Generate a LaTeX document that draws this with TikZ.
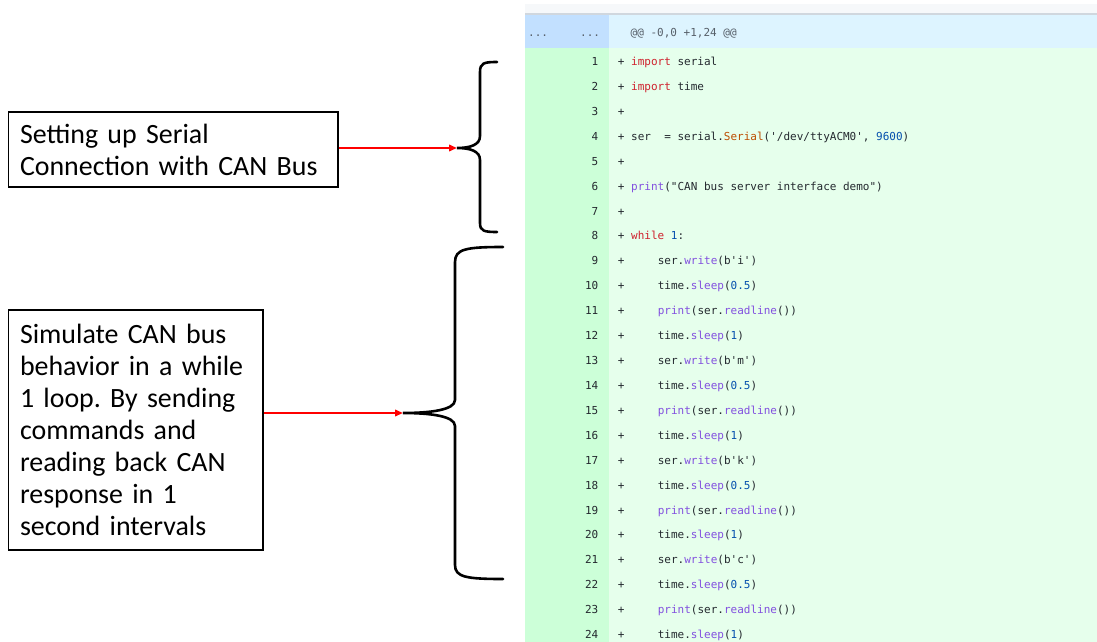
\documentclass[tikz,border=0pt]{standalone}
\usepackage{fontspec}
\setmonofont{DejaVu Sans Mono}
\newfontfamily\notefont{Carlito}
\usetikzlibrary{arrows.meta}
\frenchspacing

\definecolor{stripgray}{HTML}{F6F8FA}
\definecolor{rulegray}{HTML}{D0D7DE}
\definecolor{hunkgutter}{HTML}{C2E0FF}
\definecolor{hunkbg}{HTML}{DDF4FF}
\definecolor{addgutter}{HTML}{CCFFD8}
\definecolor{addbg}{HTML}{E6FFEC}
\definecolor{codetext}{HTML}{24292F}
\definecolor{hunkgray}{HTML}{57606A}
\definecolor{kwred}{HTML}{CF222E}
\definecolor{fnpurple}{HTML}{8250DF}
\definecolor{numblue}{HTML}{0550AE}
\definecolor{clsorange}{HTML}{BC4C00}

\newcommand{\ckw}[1]{\textcolor{kwred}{#1}}
\newcommand{\cfn}[1]{\textcolor{fnpurple}{#1}}
\newcommand{\cnum}[1]{\textcolor{numblue}{#1}}
\newcommand{\ccls}[1]{\textcolor{clsorange}{#1}}

\begin{document}
\begin{tikzpicture}[x=1pt,y=-1pt,
  code/.style={anchor=base west,inner sep=0pt,text=codetext,
    font=\ttfamily\fontsize{11}{13}\selectfont},
  lineno/.style={code,anchor=base east},
  note/.style={draw,line width=1.3pt,align=left,inner xsep=11.5pt,inner ysep=0pt,
    font=\notefont\fontsize{27.9}{32}\selectfont},
  pointer/.style={red,line width=2pt,-{Triangle[length=8pt,width=6.5pt]}},
  brace/.style={line width=2.6pt,line cap=round}]
  \fill[white] (0,0) rectangle (1097,642);
  \useasboundingbox (0,0) rectangle (1097,642);

  \fill[stripgray] (525,4.5) rectangle (1097,14);
  \fill[rulegray] (525,13.5) rectangle (1097,15.5);
  \fill[hunkgutter] (525,15.5) rectangle (609,48.5);
  \fill[hunkbg] (609,15.5) rectangle (1097,48.5);
  \fill[addgutter] (525,48.5) rectangle (609,642);
  \fill[addbg] (609,48.5) rectangle (1097,642);

  \node[code,text=hunkgray] (dotsa) at (528,37) {...};
  \node[code,text=hunkgray] (dotsb) at (580,37) {...};
  \node[code,text=hunkgray] (hunk) at (630.5,37) {@@ -0,0 +1,24 @@};

  \foreach \n/\ind/\txt in {1/0/{\ckw{import} serial},2/0/{\ckw{import} time},3/0/{},
      4/0/{ser\ \ = serial.\ccls{Serial}('/dev/ttyACM0', \cnum{9600})},5/0/{},
      6/0/{\cfn{print}("CAN bus server interface demo")},7/0/{},
      8/0/{\ckw{while} \cnum{1}:},
      9/1/{ser.\cfn{write}(b'i')},10/1/{time.\cfn{sleep}(\cnum{0.5})},
      11/1/{\cfn{print}(ser.\cfn{readline}())},12/1/{time.\cfn{sleep}(\cnum{1})},
      13/1/{ser.\cfn{write}(b'm')},14/1/{time.\cfn{sleep}(\cnum{0.5})},
      15/1/{\cfn{print}(ser.\cfn{readline}())},16/1/{time.\cfn{sleep}(\cnum{1})},
      17/1/{ser.\cfn{write}(b'k')},18/1/{time.\cfn{sleep}(\cnum{0.5})},
      19/1/{\cfn{print}(ser.\cfn{readline}())},20/1/{time.\cfn{sleep}(\cnum{1})},
      21/1/{ser.\cfn{write}(b'c')},22/1/{time.\cfn{sleep}(\cnum{0.5})},
      23/1/{\cfn{print}(ser.\cfn{readline}())},24/1/{time.\cfn{sleep}(\cnum{1})}} {
    \node[lineno] (num\n) at (598.5,{65.5+(\n-1)*24.92}) {\n};
    \node[code] (plus\n) at (617.7,{65.5+(\n-1)*24.92}) {+};
    \node[code] (line\n) at ({631+\ind*26.6},{65.5+(\n-1)*24.92}) {\txt};
  }

  \node[note,text width=306.5pt,minimum width=329.5pt,minimum height=75pt] (setup)
    at (173.25,149.5) {Setting up Serial\\Connection with CAN Bus};
  \node[note,text width=231.5pt,minimum width=254.5pt,minimum height=240pt] (loop)
    at (135.75,430) {Simulate CAN bus\\behavior in a while\\1 loop. By sending\\commands and\\reading back CAN\\response in 1\\second intervals};

  \coordinate (tipA) at (457,148);
  \coordinate (tipB) at (403,413);
  \draw[brace] (497,62) .. controls (484,62) and (480,63) .. (480,72) -- (480,136)
    .. controls (480,145) and (470,148) .. (tipA) .. controls (470,148) and (480,151) .. (480,160)
    -- (480,223) .. controls (480,231) and (484,232) .. (497,232);
  \draw[brace] (503,247) .. controls (466,247) and (455,249) .. (455,262) -- (455,400)
    .. controls (455,410) and (430,413) .. (tipB) .. controls (430,413) and (455,416) .. (455,426)
    -- (455,565) .. controls (455,577) and (466,579) .. (503,579);

  \draw[pointer] (setup.east |- tipA) -- (tipA);
  \draw[pointer] (loop.east |- tipB) -- (tipB);
\end{tikzpicture}
\end{document}
